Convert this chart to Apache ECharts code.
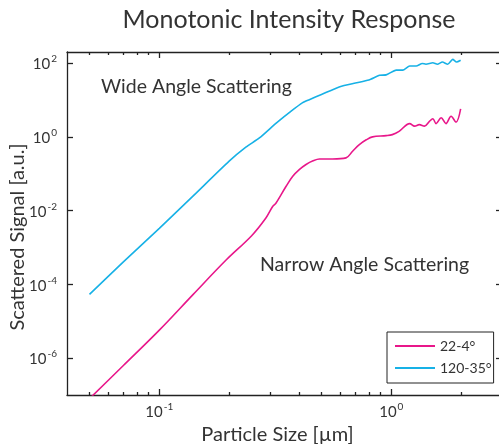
<!DOCTYPE html>
<html><head><meta charset="utf-8">
<script src="https://cdn.jsdelivr.net/npm/echarts@6/dist/echarts.min.js"></script>
<style>html,body{margin:0;padding:0;background:#fff}#c{width:499px;height:444px}</style>
</head><body><div id="c"></div>
<script>
// Particle size [µm] and scattered signal [a.u.] for each detector
const sizeWide = [0.05, 0.07, 0.1, 0.14, 0.2, 0.236, 0.27, 0.32, 0.37, 0.415, 0.443, 0.5, 0.6, 0.7, 0.8, 0.89, 0.95, 1.05, 1.12, 1.2, 1.28, 1.36, 1.41, 1.51, 1.58, 1.66, 1.75, 1.84, 1.91, 1.99];
const signalWide = [5.37e-5, 4.07e-4, 3.31e-3, 0.0251, 0.219, 0.525, 0.933, 2.40, 5.01, 8.51, 10.2, 14.1, 22.9, 28.8, 34.7, 46.8, 47.9, 64.6, 64.6, 83.2, 83.2, 97.7, 93.3, 102, 93.3, 107, 93.3, 126, 107, 120];
const sizeNarrow = [0.05, 0.07, 0.1, 0.14, 0.194, 0.25, 0.288, 0.308, 0.318, 0.352, 0.376, 0.401, 0.429, 0.46, 0.49, 0.558, 0.638, 0.681, 0.728, 0.78, 0.83, 0.95, 1.01, 1.08, 1.2, 1.26, 1.32, 1.39, 1.46, 1.51, 1.56, 1.64, 1.72, 1.81, 1.9, 1.99];
const signalNarrow = [7.94e-8, 6.31e-7, 5.75e-6, 5.37e-5, 4.57e-4, 2.09e-3, 6.31e-3, 0.0129, 0.0158, 0.0457, 0.0851, 0.129, 0.178, 0.224, 0.251, 0.251, 0.269, 0.407, 0.617, 0.832, 1.0, 1.08, 1.15, 1.41, 2.29, 1.95, 2.14, 1.95, 2.63, 3.09, 2.29, 3.31, 2.29, 3.63, 2.51, 5.75];
const seriesNames = ['22-4°', '120-35°'];
const xRange = [0.04, 3];
const yRange = [1e-7, 200];
const xMajorTicks = [0.1, 1];
const xMinorTicks = [0.05, 0.06, 0.07, 0.08, 0.09, 0.2, 0.3, 0.4, 0.5, 0.6, 0.7, 0.8, 0.9, 2, 3];
const yTicks = [1e-6, 1e-4, 1e-2, 1, 1e2];

const FONT = 'Lato';
const TXT = '#333';
const lg = v => Math.log10(v);
const pow10Label = v => '{b|10}{s|' + Math.round(v) + '}';
const rich = {
  b: {fontSize: 15, color: TXT, fontFamily: FONT, lineHeight: 18, verticalAlign: 'bottom'},
  s: {fontSize: 10, color: TXT, fontFamily: FONT, lineHeight: 18, verticalAlign: 'top', padding: [0, 0, 0, 1]}
};
const lineStyle = {color: '#222', width: 1.3};

function tickAxis(pos, vals, len, withLine, withLabel, range) {
  return {
    type: 'value', position: pos,
    min: lg(range[0]), max: lg(range[1]),
    axisLine: {show: withLine, onZero: false, lineStyle},
    axisTick: {show: true, inside: true, length: len, customValues: vals.map(lg), lineStyle},
    axisLabel: withLabel ? {show: true, customValues: vals.map(lg), formatter: pow10Label, rich, margin: pos === 'left' ? 10 : 7} : {show: false},
    splitLine: {show: false}
  };
}

const chart = echarts.init(document.getElementById('c'));
chart.setOption({
  animation: false,
  textStyle: {fontFamily: FONT, color: TXT},
  title: {
    text: 'Monotonic Intensity Response', left: 284, top: 2, textAlign: 'center',
    textStyle: {fontFamily: FONT, fontSize: 25, fontWeight: 'normal', color: TXT}
  },
  grid: {left: 67, right: -3, top: 52, bottom: 49, containLabel: false, outerBoundsMode: 'none'},
  legend: {
    data: seriesNames, orient: 'vertical', left: 387, top: 332,
    backgroundColor: '#fff', borderColor: '#222', borderWidth: 1, borderRadius: 0,
    padding: [5, 2, 6, 7], itemWidth: 40, itemHeight: 18, itemGap: 4,
    itemStyle: {opacity: 0},
    textStyle: {fontFamily: FONT, fontSize: 14, color: TXT, lineHeight: 18}
  },
  xAxis: [
    {type: 'log', min: xRange[0], max: xRange[1], show: false},
    Object.assign(tickAxis('bottom', xMajorTicks, 6, true, true, xRange), {
      name: 'Particle Size [µm]', nameLocation: 'middle', nameGap: 24,
      nameTextStyle: {fontFamily: FONT, fontSize: 20, color: TXT, padding: [0, 14, 0, 0]}
    }),
    tickAxis('bottom', xMinorTicks, 3, false, false, xRange),
    tickAxis('top', xMajorTicks, 6, true, false, xRange),
    tickAxis('top', xMinorTicks, 3, false, false, xRange)
  ],
  yAxis: [
    {type: 'log', min: yRange[0], max: yRange[1], show: false},
    Object.assign(tickAxis('left', yTicks, 6, true, true, yRange), {
      name: 'Scattered Signal [a.u.]', nameLocation: 'middle', nameGap: 39, nameMoveOverlap: false,
      nameTextStyle: {fontFamily: FONT, fontSize: 20, color: TXT, padding: [0, 27, 0, 0]}
    }),
    tickAxis('right', yTicks, 6, true, false, yRange)
  ],
  graphic: [
    {type: 'text', left: 101, top: 77, style: {text: 'Wide Angle Scattering', fontFamily: FONT, fontSize: 19.5, fill: TXT}},
    {type: 'text', left: 260, top: 255, style: {text: 'Narrow Angle Scattering', fontFamily: FONT, fontSize: 19.5, fill: TXT}}
  ],
  series: [
    {
      name: seriesNames[0], type: 'line', xAxisIndex: 0, yAxisIndex: 0,
      data: sizeNarrow.map((x, i) => [x, signalNarrow[i]]),
      showSymbol: false, symbol: 'none', smooth: 0.35, clip: true,
      lineStyle: {color: '#e8178a', width: 1.6}, itemStyle: {color: '#e8178a'}
    },
    {
      name: seriesNames[1], type: 'line', xAxisIndex: 0, yAxisIndex: 0,
      data: sizeWide.map((x, i) => [x, signalWide[i]]),
      showSymbol: false, symbol: 'none', smooth: 0.2, clip: true,
      lineStyle: {color: '#17b1e6', width: 1.6}, itemStyle: {color: '#17b1e6'}
    }
  ]
});
</script></body></html>
